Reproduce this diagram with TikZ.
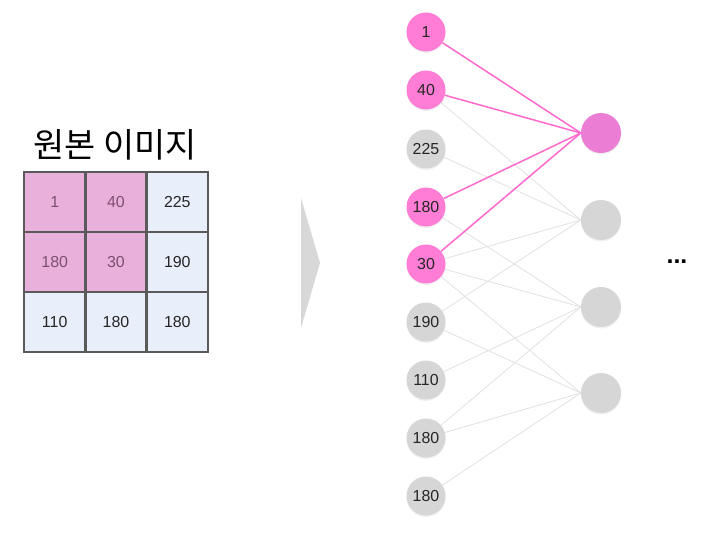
\documentclass[tikz,border=0pt]{standalone}
\usepackage{fontspec}
\setmainfont{Liberation Sans}
\newfontfamily\kofont{Noto Sans CJK KR}
\usetikzlibrary{backgrounds,shadows}

\definecolor{nodepink}{RGB}{255,125,212}
\definecolor{outpink}{RGB}{236,125,212}
\definecolor{nodegray}{RGB}{214,214,214}
\definecolor{edgegray}{RGB}{225,225,225}
\definecolor{edgepink}{RGB}{255,105,205}
\definecolor{cellpink}{RGB}{233,176,220}
\definecolor{cellblue}{RGB}{232,238,250}
\definecolor{gridline}{RGB}{90,90,90}
\definecolor{arrowgray}{RGB}{216,216,216}

\begin{document}
\begin{tikzpicture}[
                x=1bp, y=-1bp,
                neuron/.style={
                    circle,
                    fill=nodegray,
                    minimum size=39bp,
                    inner sep=0pt,
                    font=\fontsize{16}{16}\selectfont,
                    text=black!85,
                    drop shadow={opacity=0.12, shadow xshift=0bp, shadow yshift=-1.5bp}
                },
                hotneuron/.style={
                    neuron,
                    fill=nodepink
                },
                outneuron/.style={
                    neuron,
                    minimum size=40bp
                },
                cell/.style={
                    rectangle,
                    draw=gridline,
                    line width=2.5bp,
                    minimum width=61.3bp,
                    minimum height=60bp,
                    fill=cellblue,
                    text=black!85,
                    font=\fontsize{16}{16}\selectfont
                },
                hotcell/.style={
                    cell,
                    fill=cellpink,
                    text={rgb,255:red,125;green,80;blue,115}
                },
                link/.style={
                    draw=edgegray,
                    line width=0.8bp
                },
                hotlink/.style={
                    draw=edgepink,
                    line width=1.5bp
                }
            ]

    \useasboundingbox (0,0) rectangle (708,544);

    % original image
    \node[font=\kofont\fontsize{34}{34}\selectfont] (title) at (115,145) {원본 이미지};

    \node[hotcell] (c11) at (54.7,202) {1};
    \node[hotcell] (c12) at (116,202) {40};
    \node[cell]    (c13) at (177.3,202) {225};
    \node[hotcell] (c21) at (54.7,262) {180};
    \node[hotcell] (c22) at (116,262) {30};
    \node[cell]    (c23) at (177.3,262) {190};
    \node[cell]    (c31) at (54.7,322) {110};
    \node[cell]    (c32) at (116,322) {180};
    \node[cell]    (c33) at (177.3,322) {180};

    % flatten arrow
    \fill[arrowgray] (301,198) -- (320,263) -- (301,328) -- cycle;

    % input layer
    \node[hotneuron] (in1) at (426,32)  {1};
    \node[hotneuron] (in2) at (426,90)  {40};
    \node[neuron]    (in3) at (426,149) {225};
    \node[hotneuron] (in4) at (426,207) {180};
    \node[hotneuron] (in5) at (426,264) {30};
    \node[neuron]    (in6) at (426,322) {190};
    \node[neuron]    (in7) at (426,380) {110};
    \node[neuron]    (in8) at (426,438) {180};
    \node[neuron]    (in9) at (426,496) {180};

    % output layer
    \node[outneuron, fill=outpink] (out1) at (601,133) {};
    \node[outneuron] (out2) at (601,220) {};
    \node[outneuron] (out3) at (601,307) {};
    \node[outneuron] (out4) at (601,393) {};

    \node[font=\fontsize{25}{25}\selectfont\bfseries] (more) at (677,262) {...};

    \begin{scope}[on background layer]
        \draw[link] (in2) -- (out2.west);
        \draw[link] (in3) -- (out2.west);
        \draw[link] (in5) -- (out2.west);
        \draw[link] (in6) -- (out2.west);

        \draw[link] (in4) -- (out3.west);
        \draw[link] (in5) -- (out3.west);
        \draw[link] (in7) -- (out3.west);
        \draw[link] (in8) -- (out3.west);

        \draw[link] (in5) -- (out4.west);
        \draw[link] (in6) -- (out4.west);
        \draw[link] (in8) -- (out4.west);
        \draw[link] (in9) -- (out4.west);

        \draw[hotlink] (in1) -- (out1.west);
        \draw[hotlink] (in2) -- (out1.west);
        \draw[hotlink] (in4) -- (out1.west);
        \draw[hotlink] (in5) -- (out1.west);
    \end{scope}
\end{tikzpicture}
\end{document}
